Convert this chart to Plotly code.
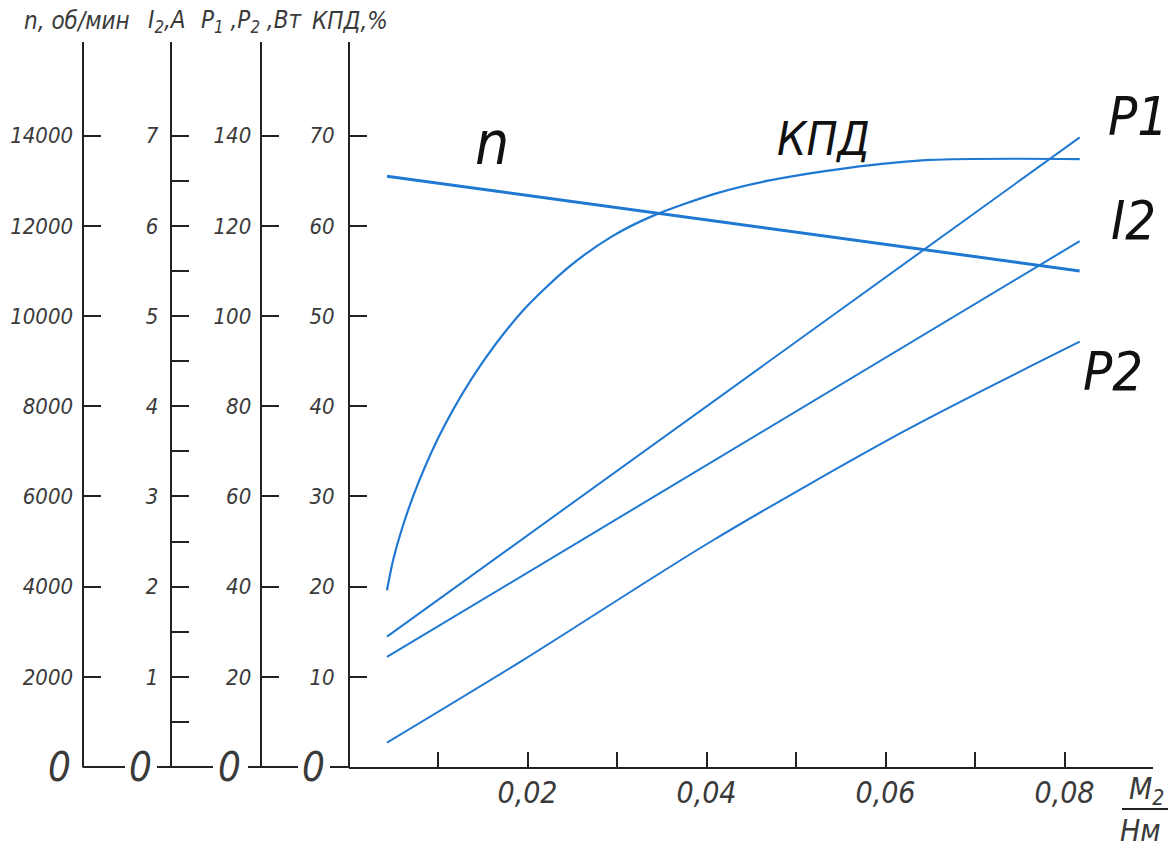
import plotly.graph_objects as go

# ---------------- data ----------------
M_line = [0.0043, 0.0817]                 # M2, Н·м
n_vals = [13100, 11000]                   # n, об/мин
P1_vals = [28.9, 139.6]                   # P1, Вт
I2_vals = [1.22, 5.83]                    # I2, A

M_P2 = [0.0043, 0.0195, 0.0405, 0.0624, 0.0817]
P2_vals = [5.4, 23.7, 50.0, 74.8, 94.3]  # P2, Вт

M_kpd = [0.0043, 0.0050, 0.0060, 0.0078, 0.0107, 0.0148, 0.0195, 0.0247,
         0.0294, 0.0340, 0.0411, 0.0469, 0.0557, 0.0650, 0.0817]
kpd_vals = [19.6, 23.0, 26.5, 31.5, 37.8, 44.6, 50.6, 55.5,
            58.8, 61.1, 63.6, 65.0, 66.4, 67.3, 67.4]  # КПД, %

x_tickvals = [0.02, 0.04, 0.06, 0.08]
x_ticktext = ["0,02", "0,04", "0,06", "0,08"]
x_minor = [0.01, 0.03, 0.05, 0.07]
n_ticks = [2000, 4000, 6000, 8000, 10000, 12000, 14000]
n_ticktext = ["2000", "4000", "6000", "8000", "10000", "12000", "14000"]
I_ticks = [1, 2, 3, 4, 5, 6, 7]
I_minor = [0.5, 1.5, 2.5, 3.5, 4.5, 5.5, 6.5]
P_ticks = [20, 40, 60, 80, 100, 120, 140]
kpd_ticks = [10, 20, 30, 40, 50, 60, 70]

# ---------------- layout geometry ----------------
W, H = 1170, 847
FONT = "Liberation Sans Narrow, DejaVu Sans Condensed, Arial Narrow, sans-serif"
INK = "#222222"
TXT = "#3a3a3a"
BLUE = "#1f78d1"

def px(x):
    return x / W

def py(y):
    return (H - y) / H

y_bottom, y_top = 767, 41.7
kpd_per_px = 9.02
kpd_top = (y_bottom - y_top) / kpd_per_px
x0_px, x1_px, x_scale = 348.5, 1153, 8950.0

fig = go.Figure()
fig.add_trace(go.Scatter(x=M_line, y=n_vals, yaxis="y2", mode="lines",
                         line=dict(color=BLUE, width=3), name="n"))
fig.add_trace(go.Scatter(x=M_kpd, y=kpd_vals, yaxis="y", mode="lines",
                         line=dict(color=BLUE, width=2.2, shape="spline", smoothing=0.8),
                         name="КПД"))
fig.add_trace(go.Scatter(x=M_line, y=P1_vals, yaxis="y4", mode="lines",
                         line=dict(color=BLUE, width=2), name="P1"))
fig.add_trace(go.Scatter(x=M_line, y=I2_vals, yaxis="y3", mode="lines",
                         line=dict(color=BLUE, width=2), name="I2"))
fig.add_trace(go.Scatter(x=M_P2, y=P2_vals, yaxis="y4", mode="lines",
                         line=dict(color=BLUE, width=2, shape="spline", smoothing=0.8),
                         name="P2"))

ydom = [py(y_bottom), py(y_top)]

def yax(pos_px, rng, tickvals, standoff, ticktext=None, minor=None, overlay=True):
    d = dict(domain=ydom, range=rng, anchor="free", position=px(pos_px),
             side="left", showline=True, linecolor=INK, linewidth=2,
             ticks="inside", ticklen=17, tickwidth=2, tickcolor=INK,
             tickmode="array", tickvals=tickvals, showgrid=False, zeroline=False,
             tickfont=dict(family=FONT, size=22, color=TXT, style="italic"),
             ticklabelstandoff=standoff, automargin=False, fixedrange=True)
    if ticktext is not None:
        d["ticktext"] = ticktext
    if overlay:
        d["overlaying"] = "y"
    if minor is not None:
        d["minor"] = dict(tickmode="array", tickvals=minor, ticks="inside",
                          ticklen=17, tickwidth=2, tickcolor=INK, showgrid=False)
    return d

layout = dict(
    width=W, height=H, margin=dict(l=0, r=0, t=0, b=0),
    paper_bgcolor="white", plot_bgcolor="white", showlegend=False,
    font=dict(family=FONT, color=TXT, style="italic"),
    xaxis=dict(domain=[px(x0_px), px(x1_px)], range=[0, (x1_px - x0_px) / x_scale],
               anchor="y", showline=True, linecolor=INK, linewidth=2,
               ticks="inside", ticklen=15, tickwidth=2, tickcolor=INK,
               tickmode="array", tickvals=x_tickvals, ticktext=x_ticktext,
               minor=dict(tickmode="array", tickvals=x_minor, ticks="inside",
                          ticklen=15, tickwidth=2, tickcolor=INK, showgrid=False),
               tickfont=dict(family=FONT, size=30, color=TXT, style="italic"),
               ticklabelstandoff=-2, showgrid=False, zeroline=False,
               automargin=False, fixedrange=True),
    yaxis=yax(349, [0, kpd_top], kpd_ticks, 9, overlay=False),
    yaxis2=yax(82.5, [0, kpd_top * 200], n_ticks, 4, ticktext=n_ticktext),
    yaxis3=yax(170.7, [0, kpd_top / 10], I_ticks, 7, minor=I_minor),
    yaxis4=yax(260.7, [0, kpd_top * 2], P_ticks, 4),
)
fig.update_layout(**layout)

# baseline segments between the vertical scales
for a, b in [(82.5, 125), (157, 213), (248, 298), (330, 349)]:
    fig.add_shape(type="line", xref="paper", yref="paper",
                  x0=px(a), x1=px(b), y0=py(y_bottom), y1=py(y_bottom),
                  line=dict(color=INK, width=2))

def text(x, y, s, size, color=TXT, xanchor="center"):
    fig.add_annotation(x=px(x), y=py(y), xref="paper", yref="paper", text=s,
                       showarrow=False, xanchor=xanchor, yanchor="middle",
                       font=dict(family=FONT, size=size, color=color, style="italic"))

# zero labels
for xz in [59, 140, 229.5, 313.5]:
    text(xz, 767, "0", 40)

# axis titles
text(77, 21, "n, об/мин", 24)
text(167, 21, "I<sub>2</sub>,A", 24)
text(252, 21, "P<sub>1</sub> ,P<sub>2</sub> ,Вт", 24)
text(350, 21, "КПД,%", 24)

# curve labels
text(492, 143, "n", 60, color="#111111")
text(823, 139, "КПД", 46, color="#111111")
text(1138, 116, "P1", 54, color="#111111")
text(1133, 221, "I2", 54, color="#111111")
text(1113, 372, "P2", 54, color="#111111")

# x-axis unit (fraction)
text(1146, 790, "M<sub>2</sub>", 30)
fig.add_shape(type="line", xref="paper", yref="paper",
              x0=px(1122), x1=px(1168), y0=py(809), y1=py(809),
              line=dict(color=INK, width=2))
text(1140, 830, "Нм", 30)

fig.write_html("out.html", include_plotlyjs=True,
               config={"displayModeBar": False},
               post_script="document.body.style.margin='0';document.body.style.overflow='hidden';")
